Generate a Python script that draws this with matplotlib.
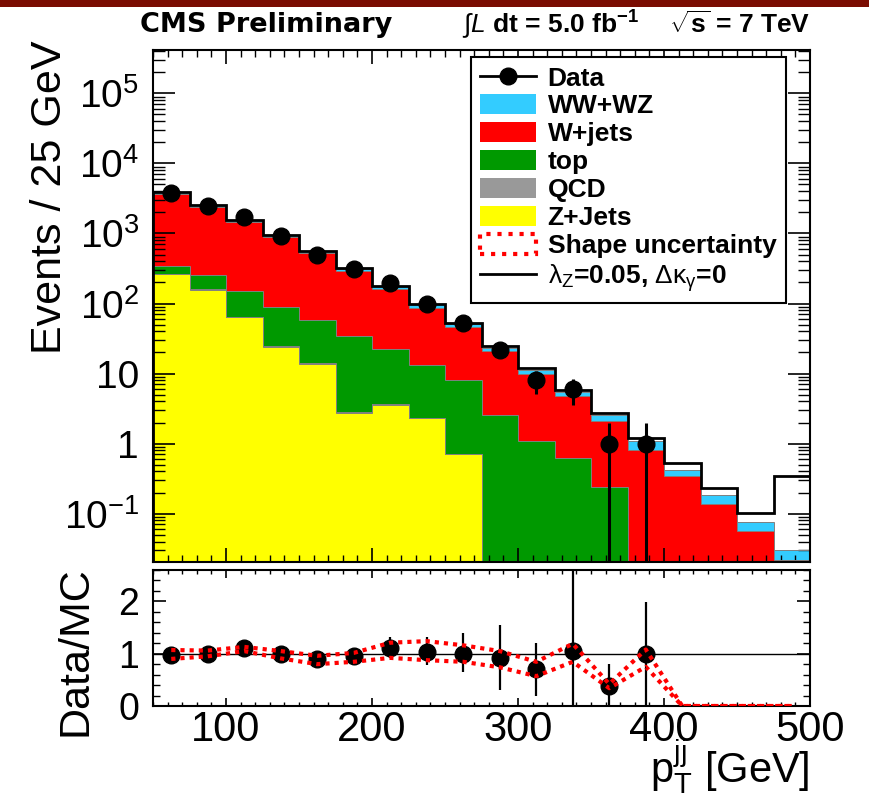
import numpy as np
import matplotlib
matplotlib.use('Agg')
import matplotlib.pyplot as plt
from matplotlib.patches import Patch, Rectangle
from matplotlib.lines import Line2D
from matplotlib.ticker import (FixedLocator, MultipleLocator, LogLocator,
                               FuncFormatter, NullFormatter)

plt.rcParams['font.family'] = ['Liberation Sans', 'DejaVu Sans']
plt.rcParams['mathtext.fontset'] = 'custom'
plt.rcParams['mathtext.rm'] = 'Liberation Sans'
plt.rcParams['mathtext.it'] = 'Liberation Sans:italic'
plt.rcParams['mathtext.bf'] = 'Liberation Sans:bold'

# ---------------- data ----------------
bin_edges = [50, 75, 100, 125, 150, 175, 200, 225, 250, 275, 300, 325, 350,
             375, 400, 425, 450, 475, 500]
zjets = [260, 158, 64, 24, 13.9, 2.7, 3.6, 2.3, 0.70, 0, 0, 0, 0, 0, 0, 0, 0, 0]
qcd   = [2.0, 1.5, 1.0, 0.5, 0.3, 0.15, 0.1, 0.05, 0.02, 0, 0, 0, 0, 0, 0, 0, 0, 0]
top   = [79, 94, 85, 66, 43.5, 31, 19, 10.8, 7.3, 2.6, 1.09, 0.62, 0.24,
         0, 0, 0, 0, 0]
wjets = [3300, 2146, 1300, 786, 460, 258, 139, 73.4, 38.3, 18.2, 8.7, 4.1,
         1.86, 0.82, 0.34, 0.139, 0.056, 0.0215]
wwwz  = [290, 140, 100, 68, 41, 24, 15, 10.3, 5.5, 2.4, 1.6, 0.72, 0.44,
         0.27, 0.085, 0.043, 0.020, 0.0091]
atgc  = [3950, 2560, 1565, 955, 565, 320, 180, 99, 53, 24.8, 12.2, 5.9, 2.73,
         1.2, 0.52, 0.23, 0.103, 0.345]
data  = [3730, 2450, 1730, 925, 490, 306, 197, 98, 52, 22, 8, 6, 1, 1]

ratio       = [0.97, 1.00, 1.10, 0.99, 0.90, 0.95, 1.11, 1.03, 0.99, 0.92,
               0.70, 1.06, 0.38, 1.00]
ratio_lo    = [0.94, 0.97, 1.06, 0.94, 0.84, 0.87, 0.91, 0.78, 0.65, 0.31,
               0.19, 0.0, 0.0, 0.0]
ratio_hi    = [1.00, 1.03, 1.14, 1.04, 0.96, 1.03, 1.32, 1.31, 1.39, 1.54,
               1.21, 2.80, 0.80, 1.99]
band_up     = [1.07, 1.06, 1.13, 1.05, 0.96, 1.015, 1.21, 1.24, 1.16, 1.05,
               0.845, 1.19, 0.42, 1.08, 0, 0, 0, 0]
band_dn     = [0.90, 0.95, 1.05, 0.91, 0.80, 0.845, 0.92, 0.876, 0.845, 0.74,
               0.57, 0.845, 0.34, 0.75, 0, 0, 0, 0]

# ---------------- colors ----------------
c_ww, c_wj, c_top, c_qcd, c_z = '#33ccff', '#ff0000', '#009900', '#999999', '#ffff00'

edges = np.array(bin_edges, dtype=float)
centers = 0.5 * (edges[:-1] + edges[1:])
floor = 1e-4

fig = plt.figure(figsize=(8.69, 7.98), dpi=100)
W, H = 869.0, 798.0
ax1 = fig.add_axes([153 / W, 1 - 562 / H, (810 - 153) / W, (562 - 50) / H])
ax2 = fig.add_axes([153 / W, 1 - 706 / H, (810 - 153) / W, (706 - 570) / H])

# ---------------- top panel ----------------
ax1.set_yscale('log')
layers = [zjets, qcd, top, wjets, wwwz]
colors = [c_z, c_qcd, c_top, c_wj, c_ww]
cum_prev = np.zeros(len(centers))
for vals, col in zip(layers, colors):
    cum = cum_prev + np.array(vals, dtype=float)
    ax1.stairs(np.maximum(cum, floor), edges, baseline=np.maximum(cum_prev, floor),
               fill=True, color=col, lw=0, zorder=1)
    cum_prev = cum
cum_prev = np.zeros(len(centers))
for vals in layers:
    cum = cum_prev + np.array(vals, dtype=float)
    ax1.stairs(np.maximum(cum, floor), edges, color='#808080', lw=0.7, zorder=2)
    cum_prev = cum

ax1.stairs(atgc, edges, color='black', lw=2, zorder=3)

d = np.array(data, dtype=float)
derr = np.sqrt(d)
lo = d - np.maximum(d - derr, 1e-3)
ax1.errorbar(centers[:len(d)], d, yerr=[lo, derr], fmt='o', color='black',
             ms=12, elinewidth=2.2, capsize=0, zorder=4)

ax1.set_xlim(50, 500)
ax1.set_ylim(0.0204, 4.16e5)


def logfmt(v, pos):
    e = int(round(np.log10(v)))
    if e == 0:
        return '1'
    if e == 1:
        return '10'
    return r'$\mathregular{10^{%d}}$' % e


ax1.yaxis.set_major_locator(LogLocator(base=10, numticks=20))
ax1.yaxis.set_minor_locator(LogLocator(base=10, subs=np.arange(2, 10), numticks=20))
ax1.yaxis.set_major_formatter(FuncFormatter(logfmt))
ax1.yaxis.set_minor_formatter(NullFormatter())
ax1.xaxis.set_major_locator(MultipleLocator(100))
ax1.xaxis.set_minor_locator(MultipleLocator(10))
ax1.tick_params(which='both', direction='in', top=True, right=True,
                labelbottom=False)
ax1.tick_params(axis='y', which='major', length=16, width=1.2, labelsize=28, pad=10)
ax1.tick_params(axis='y', which='minor', length=8.5, width=1)
ax1.tick_params(axis='x', which='major', length=10, width=1.2)
ax1.tick_params(axis='x', which='minor', length=5, width=1)
for s in ax1.spines.values():
    s.set_linewidth(1.5)

handles = [Line2D([], [], color='black', marker='o', ms=12, lw=2),
           Patch(fc=c_ww), Patch(fc=c_wj), Patch(fc=c_top), Patch(fc=c_qcd),
           Patch(fc=c_z),
           Patch(fc='none', ec='red', ls=':', lw=3),
           Line2D([], [], color='black', lw=2)]
labels = ['Data', 'WW+WZ', 'W+jets', 'top', 'QCD', 'Z+Jets', 'Shape uncertainty',
          r'$\mathrm{\lambda_{Z}}$=0.05, $\mathrm{\Delta\kappa_{\gamma}}$=0']
leg = ax1.legend(handles, labels, loc='upper left',
                 bbox_to_anchor=(471 / W, 1 - 57 / H),
                 bbox_transform=fig.transFigure, frameon=True, fancybox=False,
                 edgecolor='black', framealpha=1,
                 prop={'weight': 'bold', 'size': 19},
                 handlelength=2.1, handleheight=0.8, handletextpad=0.45,
                 labelspacing=0.14, borderpad=0.35, borderaxespad=0)
leg.get_frame().set_linewidth(1.5)
leg.set_zorder(10)

# ---------------- bottom panel ----------------
ax2.axhline(1, color='black', lw=1, zorder=1)
r = np.array(ratio)
ax2.errorbar(centers[:len(r)], r,
             yerr=[r - np.array(ratio_lo), np.array(ratio_hi) - r],
             fmt='o', color='black', ms=12, elinewidth=1.6, capsize=0, zorder=3)
ax2.plot(centers, band_up, color='red', ls=(0, (1, 1.2)), lw=3, zorder=4)
ax2.plot(centers, band_dn, color='red', ls=(0, (1, 1.2)), lw=3, zorder=4)
ax2.set_xlim(50, 500)
ax2.set_ylim(0, 2.6)
ax2.yaxis.set_major_locator(FixedLocator([0, 1, 2]))
ax2.yaxis.set_minor_locator(MultipleLocator(0.2))
ax2.xaxis.set_major_locator(MultipleLocator(100))
ax2.xaxis.set_minor_locator(MultipleLocator(10))
ax2.tick_params(which='both', direction='in', top=True, right=True)
ax2.tick_params(axis='y', which='major', length=9.5, width=1.2, labelsize=27, pad=10)
ax2.tick_params(axis='y', which='minor', length=5, width=1)
ax2.tick_params(axis='x', which='major', length=6, width=1.2, labelsize=30, pad=3)
ax2.tick_params(axis='x', which='minor', length=3, width=1)
for s in ax2.spines.values():
    s.set_linewidth(1.5)

# ---------------- texts ----------------
fig.text(50 / W, 1 - 40 / H, 'Events / 25 GeV', rotation=90, ha='center',
         va='top', fontsize=31)
fig.text(76 / W, 1 - 651 / H, 'Data/MC', rotation=90, ha='center', va='center',
         fontsize=31)
fig.text(810 / W, 1 - 768 / H, r'$\mathrm{p_{T}^{jj}}$ [GeV]', ha='right',
         va='center', fontsize=30)
fig.text(140 / W, 1 - 25 / H, 'CMS Preliminary', ha='left', va='center',
         fontsize=19.5, fontweight='bold', family='DejaVu Sans')
fig.text(462 / W, 1 - 25 / H, r'$\int$$\mathbf{\mathit{L}}$ dt = 5.0 fb$^{\mathbf{-1}}$',
         ha='left', va='center', fontsize=19, fontweight='bold')
fig.text(810 / W, 1 - 25 / H, r'$\sqrt{\mathbf{s}}$ = 7 TeV', ha='right',
         va='center', fontsize=19, fontweight='bold')
fig.add_artist(Rectangle((0, 1 - 7 / H), 1, 7 / H, transform=fig.transFigure,
                         color='#7a0c02', lw=0))

fig.savefig('out.png', dpi=100)
